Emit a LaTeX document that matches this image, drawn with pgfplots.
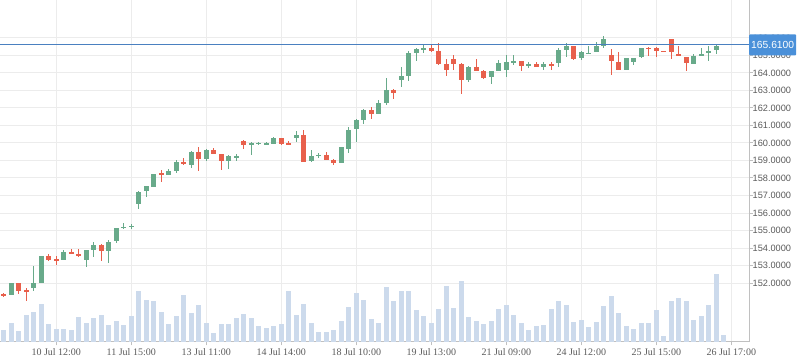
\documentclass[border=0pt]{standalone}
\usepackage{pgfplots}
\usepackage{pgfplotstable}
\pgfplotsset{compat=1.18}
\usepackage{fontspec}
\setmainfont{Liberation Serif}
\newfontfamily\sansf{Liberation Sans}
\definecolor{upc}{RGB}{104,170,138}
\definecolor{dnc}{RGB}{232,96,76}
\definecolor{volc}{RGB}{204,218,236}
\definecolor{gridc}{RGB}{236,236,236}
\definecolor{axc}{RGB}{192,192,192}
\definecolor{lastc}{RGB}{74,128,192}
\definecolor{boxc}{RGB}{74,144,217}
\definecolor{txtc}{RGB}{90,90,90}

% rising candles: x open high low close
\pgfplotstableread{
x o h l c
-6 151.33 152.00 151.33 152.00
-3 151.70 153.00 151.55 152.00
-2 152.00 153.57 151.98 153.53
1 153.29 153.91 153.29 153.78
4 153.32 153.86 152.90 153.86
5 153.86 154.34 153.48 154.15
7 153.82 154.45 153.13 154.32
8 154.38 155.13 154.27 155.13
9 155.17 155.42 155.10 155.22
10 155.20 155.38 155.10 155.27
11 156.54 157.25 156.24 157.21
12 157.23 157.55 156.94 157.55
13 157.50 158.24 157.50 158.24
15 158.15 158.52 158.15 158.38
16 158.38 159.00 158.27 158.89
18 158.75 159.57 158.57 159.49
20 159.06 159.65 158.96 159.60
23 158.96 159.33 158.52 159.23
24 159.20 159.35 158.96 159.23
26 159.88 160.06 159.31 159.98
27 159.97 160.07 159.88 159.99
28 159.96 160.08 159.96 159.98
29 159.97 160.37 159.97 160.31
32 160.26 160.71 160.08 160.48
34 158.96 159.59 158.90 159.23
35 159.28 159.45 159.15 159.30
38 158.84 159.76 158.84 159.76
39 159.66 160.89 159.42 160.77
40 160.79 161.40 160.05 161.29
41 161.31 161.92 161.08 161.86
43 161.65 162.43 161.65 162.26
44 162.28 163.69 162.18 163.00
46 163.58 164.34 163.19 163.81
47 163.82 165.24 163.52 165.12
48 165.14 165.41 164.68 165.35
49 165.37 165.60 165.14 165.39
55 163.60 164.38 163.50 164.32
58 163.77 164.11 163.35 164.09
59 164.11 164.72 164.11 164.57
60 164.17 165.00 163.77 164.60
61 164.64 165.00 164.47 164.67
63 164.42 164.61 164.28 164.49
65 164.32 164.61 164.17 164.49
67 164.57 165.42 164.32 165.33
68 165.33 165.69 164.91 165.52
70 164.85 165.23 164.76 165.18
71 165.12 165.57 165.12 165.14
72 165.21 165.75 165.19 165.52
73 165.52 166.14 165.42 165.94
76 164.19 164.85 164.15 164.85
77 164.61 164.85 164.44 164.85
78 164.89 165.42 164.85 165.42
85 164.53 165.08 164.53 164.99
86 164.99 165.42 164.99 165.10
87 165.12 165.57 164.66 165.27
88 165.29 165.65 165.06 165.57
}\upt

% falling candles: x open high low close
\pgfplotstableread{
x o h l c
-7 151.36 151.45 151.20 151.32
-5 152.00 152.00 151.40 151.55
-4 151.57 151.70 151.00 151.53
-1 153.53 153.63 153.25 153.34
0 153.36 153.57 153.02 153.32
2 153.80 153.95 153.65 153.65
3 153.63 153.97 153.50 153.58
6 154.15 154.25 153.25 153.82
14 158.30 158.45 157.76 158.17
17 158.90 159.15 158.72 158.86
19 159.50 159.75 158.42 159.07
21 159.58 159.70 159.35 159.35
22 159.37 159.40 158.44 158.96
25 160.10 160.15 159.65 159.88
30 160.31 160.31 159.87 159.97
31 159.98 160.14 159.96 159.96
33 160.48 160.77 158.90 158.94
36 159.34 159.47 159.00 159.05
37 159.05 159.11 158.77 158.84
42 161.86 162.03 161.36 161.63
45 163.00 163.10 162.51 162.85
50 165.41 165.62 165.20 165.24
51 165.24 165.69 164.45 164.51
52 164.49 164.78 163.81 164.17
53 164.78 165.03 164.15 164.51
54 164.51 164.57 162.79 163.60
56 164.32 164.78 164.11 164.11
57 164.09 164.15 163.68 163.71
62 164.66 164.66 164.11 164.40
64 164.51 164.65 164.34 164.34
66 164.49 164.61 164.17 164.38
69 165.52 165.52 164.76 164.80
74 165.00 165.35 163.87 164.66
75 164.63 165.18 164.15 164.15
79 165.44 165.46 164.95 165.40
80 165.42 165.48 164.89 165.23
81 165.27 165.27 165.23 165.23
82 165.94 165.94 164.80 165.18
83 165.10 165.57 164.95 164.95
84 164.91 164.91 164.09 164.57
89 165.66 165.66 165.61 165.61
}\dnt

% volume (relative units)
\pgfplotstableread{
x v
-7 12.3
-6 19.3
-5 11.3
-4 27.3
-3 30.3
-2 38.3
-1 18.3
0 13.3
1 13.3
2 12.3
3 25.3
4 19.3
5 24.3
6 27.3
7 17.3
8 21.3
9 17.3
10 26.3
11 51.3
12 42.3
13 41.3
14 30.3
15 18.3
16 26.3
17 47.3
18 29.3
19 37.3
20 19.3
21 9.3
22 18.3
23 18.3
24 24.3
25 28.3
26 24.3
27 16.3
28 14
29 16
30 18
31 51
32 27
33 38
34 19
35 10
36 10
37 12
38 21
39 35
40 49
41 42
42 23
43 19
44 55
45 41
46 51
47 51
48 32
49 26
50 19
51 33
52 56
53 34
54 61
55 25
56 21
57 18
58 21
59 33
60 37
61 27
62 19
63 12
64 16
65 17
66 33
67 41
68 37
69 20
70 22
71 15
72 20
73 36
74 46
75 29
76 16
77 13
78 19
79 19
80 32
81 6
82 41
83 44
84 41
85 22
86 26
87 37
88 68
89 7
}\volt

\begin{document}
\begin{tikzpicture}
\path[use as bounding box] (0,0) rectangle (798pt,363pt);
% frame, grid, ticks
\begin{axis}[
  at={(0pt,21pt)}, anchor=south west,
  width=749pt, height=342pt, scale only axis,
  xmin=-7.5, xmax=92.36, ymin=148.63, ymax=168.17,
  axis x line*=bottom, axis y line*=right,
  axis line style={axc, line width=1pt, -},
  xtick={0,10,...,90},
  xticklabels={10 Jul 12:00, 11 Jul 15:00, 13 Jul 11:00, 14 Jul 14:00, 18 Jul 10:00, 19 Jul 13:00, 21 Jul 09:00, 24 Jul 12:00, 25 Jul 15:00, 26 Jul 17:00},
  ytick={152,153,...,166},
  grid=major, major grid style={gridc, line width=1pt},
  tick align=outside, major tick length=3.5pt,
  tick style={axc, line width=1pt},
  xticklabel style={font=\fontsize{10}{10}\selectfont, text=txtc, inner sep=0pt, yshift=-3pt},
  yticklabel style={font=\sansf\fontsize{9.2}{9.2}\selectfont, text=txtc, anchor=west, inner sep=0pt, xshift=0pt,
    /pgf/number format/.cd, fixed, fixed zerofill, precision=4, 1000 sep={}, assume math mode=true},
]
\end{axis}
% volume bars
\begin{axis}[
  at={(0pt,21pt)}, anchor=south west,
  width=749pt, height=342pt, scale only axis,
  xmin=-7.5, xmax=92.36, ymin=0, ymax=342, hide axis,
]
\addplot[ycomb, draw=volc, line width=5pt, mark=none] table[x=x, y=v]{\volt};
\end{axis}
% candles
\begin{axis}[
  at={(0pt,21pt)}, anchor=south west,
  width=749pt, height=342pt, scale only axis,
  xmin=-7.5, xmax=92.36, ymin=148.63, ymax=168.17, hide axis,
  every axis plot/.append style={draw=none, mark=none},
]
\addplot+[draw=none, mark=none, error bars/.cd, y dir=both, y explicit, error mark=none,
  error bar style={draw=upc, line width=1pt}]
  table[x=x, y expr=(\thisrow{h}+\thisrow{l})/2, y error expr=(\thisrow{h}-\thisrow{l})/2]{\upt};
\addplot+[draw=none, mark=none, error bars/.cd, y dir=both, y explicit, error mark=none,
  error bar style={draw=upc, line width=5pt}]
  table[x=x, y expr=(\thisrow{o}+\thisrow{c})/2, y error expr={max(abs(\thisrow{c}-\thisrow{o})/2,0.03)}]{\upt};
\addplot+[draw=none, mark=none, error bars/.cd, y dir=both, y explicit, error mark=none,
  error bar style={draw=dnc, line width=1pt}]
  table[x=x, y expr=(\thisrow{h}+\thisrow{l})/2, y error expr=(\thisrow{h}-\thisrow{l})/2]{\dnt};
\addplot+[draw=none, mark=none, error bars/.cd, y dir=both, y explicit, error mark=none,
  error bar style={draw=dnc, line width=5pt}]
  table[x=x, y expr=(\thisrow{o}+\thisrow{c})/2, y error expr={max(abs(\thisrow{c}-\thisrow{o})/2,0.03)}]{\dnt};
\addplot[draw=lastc, line width=1pt, mark=none] coordinates {(-7.5,165.61) (92.36,165.61)};
\coordinate (lp) at (axis cs:92.36,165.61);
\end{axis}
\node[fill=boxc, text=white, font=\sansf\fontsize{10.3}{10.3}\selectfont, anchor=west,
  minimum height=21pt, minimum width=47pt, inner sep=0pt, rounded corners=1pt] at (lp) {165.6100};
\end{tikzpicture}
\end{document}
